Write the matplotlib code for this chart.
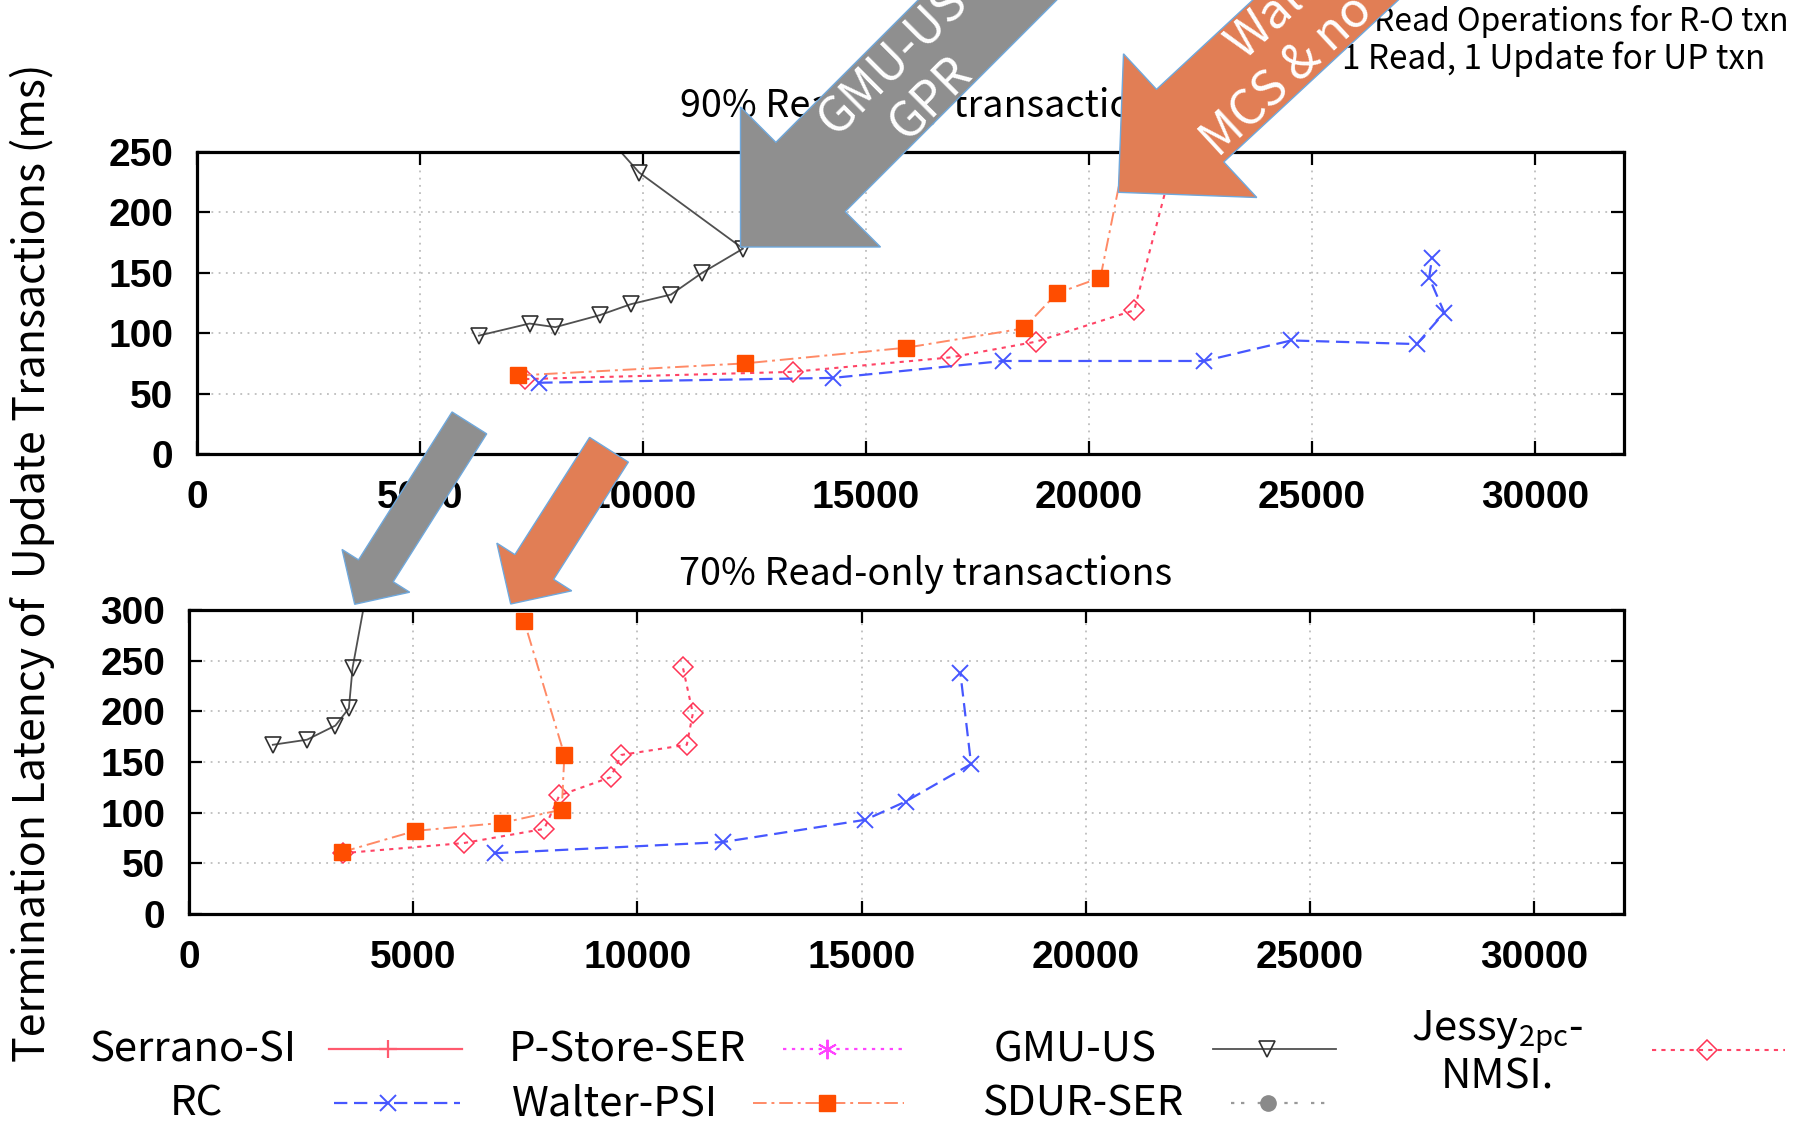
import matplotlib
matplotlib.use('Agg')
import matplotlib.pyplot as plt
from matplotlib.lines import Line2D
from matplotlib.patches import Polygon
import numpy as np

plt.rcParams['font.family'] = ['Noto Sans CJK JP', 'DejaVu Sans']
plt.rcParams['mathtext.fontset'] = 'custom'
plt.rcParams['mathtext.rm'] = 'Noto Sans CJK JP'

# ---------------- data ----------------
x_ticks = [0, 5000, 10000, 15000, 20000, 25000, 30000]
top_y_ticks = [0, 50, 100, 150, 200, 250]
bot_y_ticks = [0, 50, 100, 150, 200, 250, 300]

# 90% read-only
top_gmu_x = [6321, 7457, 8036, 9036, 9727, 10629, 11328, 12245, 9915, 8300]
top_gmu_y = [98, 108, 105, 115, 124, 132, 150, 170, 233, 300]
top_walter_x = [7194, 12283, 15906, 18537, 19281, 20258, 21100]
top_walter_y = [65, 75, 88, 104, 133, 146, 300]
top_jessy_x = [7359, 13357, 16906, 18819, 21017, 22300]
top_jessy_y = [62, 68, 80, 93, 119, 300]
top_rc_x = [7675, 14260, 18073, 22584, 24538, 27354, 27970, 27632, 27693]
top_rc_y = [59, 63, 77, 77, 94, 91, 117, 146, 162]

# 70% read-only
bot_gmu_x = [1869, 2631, 3266, 3565, 3648, 4300]
bot_gmu_y = [167, 172, 186, 203, 243, 400]
bot_walter_x = [3401, 5045, 6989, 8312, 8371, 7474]
bot_walter_y = [61, 82, 90, 103, 157, 289]
bot_jessy_x = [3423, 6128, 7922, 8259, 9403, 9643, 11101, 11236, 11010]
bot_jessy_y = [60, 70, 84, 117, 135, 157, 167, 198, 244]
bot_rc_x = [6824, 11907, 15085, 15982, 17440, 17201]
bot_rc_y = [60, 71, 93, 111, 148, 238]

titles = ["90% Read-only transactions", "70% Read-only transactions"]
y_label = "Termination Latency of  Update Transactions (ms)"
note_lines = ["Read Operations for R-O txn", "1 Read, 1 Update for UP txn"]
legend_labels = ["Serrano-SI", "RC", "P-Store-SER", "Walter-PSI",
                 "GMU-US", "SDUR-SER", "Jessy$_{\\mathregular{2pc}}$-\nNMSI."]
arrow_labels = [["GMU-US", "GPR"], ["Walter", "MCS & no GPR"]]

# ---------------- styles ----------------
S = {
    'serrano': dict(color='#ff5a6e', ls='-', lw=1.6, marker='+', ms=13, mew=1.6),
    'rc': dict(color='#4657ff', ls=(0, (6, 3)), lw=1.6, marker='x', ms=11.5, mew=1.4),
    'pstore': dict(color='#ff44ff', ls=(0, (1.5, 2.5)), lw=1.6, marker=(6, 2, 0), ms=14, mew=1.4),
    'walter': dict(color='#ff8a66', ls=(0, (7, 2.5, 1.5, 2.5)), lw=1.4, marker='s', ms=11,
                   mfc='#ff4d00', mec='#ff4d00'),
    'gmu': dict(color='#505050', ls='-', lw=1.3, marker='v', ms=11.5, mfc='none', mec='#303030', mew=1.2),
    'sdur': dict(color='#999999', ls=(0, (1.5, 3, 1.5, 6)), lw=1.6, marker='o', ms=11,
                 mfc='#8a8a8a', mec='#8a8a8a'),
    'jessy': dict(color='#ff4466', ls=(0, (2, 2.5)), lw=1.5, marker='D', ms=10, mfc='none',
                  mec='#ff3355', mew=1.1),
}

W, H = 1811, 1126
fig = plt.figure(figsize=(W / 100, H / 100), dpi=100)


def fx(x):
    return x / W


def fy(y):
    return 1 - y / H


ax1 = fig.add_axes([197 / W, fy(454), (1624 - 197) / W, (454 - 152) / H])
ax2 = fig.add_axes([189 / W, fy(914), (1624 - 189) / W, (914 - 610) / H])

for ax, yt in ((ax1, top_y_ticks), (ax2, bot_y_ticks)):
    ax.set_xlim(0, 32000)
    ax.set_ylim(0, yt[-1])
    ax.set_xticks(x_ticks)
    ax.set_yticks(yt)
    ax.grid(True, color='#bdbdbd', linestyle=(0, (1, 3)), lw=1.3)
    ax.set_axisbelow(True)
    for sp in ax.spines.values():
        sp.set_linewidth(2.3)
    ax.tick_params(direction='in', length=9.5, width=1.6, top=True, right=True,
                   labelsize=28, pad=19)
    ax.tick_params(axis='y', pad=17)
    for lab in ax.get_xticklabels() + ax.get_yticklabels():
        lab.set_fontfamily('Liberation Sans')
        lab.set_fontweight('bold')

# series
ax1.plot(top_gmu_x, top_gmu_y, **S['gmu'])
ax1.plot(top_jessy_x, top_jessy_y, **S['jessy'])
ax1.plot(top_walter_x, top_walter_y, **S['walter'])
ax1.plot(top_rc_x, top_rc_y, **S['rc'])

ax2.plot(bot_gmu_x, bot_gmu_y, **S['gmu'])
ax2.plot(bot_jessy_x, bot_jessy_y, **S['jessy'])
ax2.plot(bot_walter_x, bot_walter_y, **S['walter'])
ax2.plot(bot_rc_x, bot_rc_y, **S['rc'])

renderer = fig.canvas.get_renderer()


def fit(t, target, vertical=False):
    bb = t.get_window_extent(renderer)
    w = bb.height if vertical else bb.width
    t.set_fontsize(t.get_fontsize() * target / w)


# titles
t1 = fig.text(fx(927), fy(106), titles[0], ha='center', va='center', fontsize=24)
t2 = fig.text(fx(926), fy(574), titles[1], ha='center', va='center', fontsize=24)
fit(t1, 493)
fit(t2, 493)

# y label
yl = fig.text(fx(32), fy(563), y_label, rotation=90, ha='center', va='center', fontsize=26)
fit(yl, 1000, vertical=True)

# note text
n1 = fig.text(fx(1374), fy(22), note_lines[0], ha='left', va='center', fontsize=20)
n2 = fig.text(fx(1342), fy(59), note_lines[1], ha='left', va='center', fontsize=20)
fit(n2, 424)
fit(n1, 415)

# legend (manual, gnuplot style: text then sample)
leg = [
    # label, text x, text y, line x0, x1, marker x, line y, style
    (legend_labels[0], 193, 1050, 329, 462, 388, 1049, 'serrano'),
    (legend_labels[1], 196, 1104, 334, 460, 388, 1103, 'rc'),
    (legend_labels[2], 627, 1050, 783, 904, 827, 1049, 'pstore'),
    (legend_labels[3], 615, 1104, 753, 904, 827, 1103, 'walter'),
    (legend_labels[4], 1075, 1050, 1213, 1336, 1267, 1049, 'gmu'),
    (legend_labels[5], 1083, 1104, 1231, 1328, 1268, 1103, 'sdur'),
    (legend_labels[6], 1497, 1053, 1652, 1785, 1707, 1050, 'jessy'),
]
leg_texts = []
for lab, tx, ty, x0, x1, mx, line_y, key in leg:
    st = dict(S[key])
    mk = dict(marker=st.pop('marker'), ms=st.pop('ms'))
    for k in ('mfc', 'mec', 'mew'):
        if k in st:
            mk[k] = st.pop(k)
    fig.add_artist(Line2D([fx(x0), fx(x1)], [fy(line_y), fy(line_y)],
                          transform=fig.transFigure, **st))
    fig.add_artist(Line2D([fx(mx)], [fy(line_y)], transform=fig.transFigure,
                          color=st['color'], ls='none', **mk))
    t = fig.text(fx(tx), fy(ty), lab, ha='center', va='center', fontsize=30,
                 multialignment='center', linespacing=1.0)
    leg_texts.append(t)
fit(leg_texts[0], 207)
for t in leg_texts[1:]:
    t.set_fontsize(leg_texts[0].get_fontsize())


# ---------------- block arrows ----------------
def arrow_poly(tip, ang, hl, hw, sw, sl):
    a = np.radians(ang)
    u = np.array([np.cos(a), -np.sin(a)])
    n = np.array([np.sin(a), np.cos(a)])
    T = np.array(tip, float)
    B = T + hl * u
    pts = [T, B + hw / 2 * n, B + sw / 2 * n, B + sw / 2 * n + sl * u,
           B - sw / 2 * n + sl * u, B - sw / 2 * n, B - hw / 2 * n]
    return [(fx(p[0]), fy(p[1])) for p in pts], B, u, n


GREY = '#8f8f8f'
ORANGE = '#e17e55'
EDGE = '#6fa8dc'
arrows = [
    # tip, angle, head len, head width, shaft width, shaft len, colour, text, text pos
    ((740.5, 247.0), 45.0, 99, 198, 98, 650, GREY, arrow_labels[0], 140),
    ((1118.3, 192.3), 42.85, 98, 196, 99, 650, ORANGE, arrow_labels[1], 158),
    ((354.7, 604.3), 57.7, 39.6, 80, 41, 175, GREY, None, 0),
    ((510.7, 604.0), 57.5, 43.9, 88.8, 46, 139, ORANGE, None, 0),
]
for tip, ang, hl, hw, sw, sl, col, txt, tpos in arrows:
    pts, B, u, n = arrow_poly(tip, ang, hl, hw, sw, sl)
    fig.add_artist(Polygon(pts, closed=True, transform=fig.transFigure, facecolor=col,
                           edgecolor=EDGE, lw=1.0, zorder=20))
    if txt:
        c = B + tpos * u
        gap = 27
        for i, line in enumerate(txt):
            off = (-gap if i == 0 else gap) + 3
            p = c + off * n
            fig.text(fx(p[0]), fy(p[1]), line, color='white', rotation=ang,
                     rotation_mode='anchor', ha='center', va='center',
                     fontsize=35, zorder=21)

fig.savefig('out.png', dpi=100)
